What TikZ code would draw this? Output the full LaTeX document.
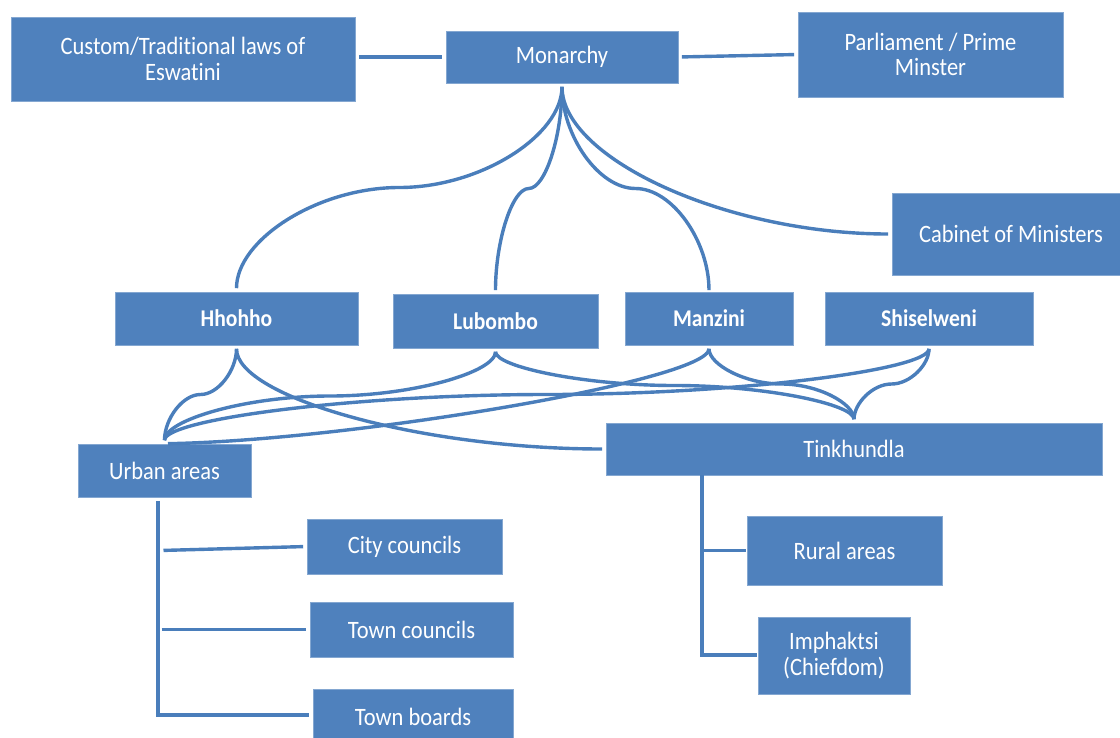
\documentclass[tikz,border=0pt]{standalone}
\usepackage{fontspec}
\setmainfont{Carlito}[FakeStretch=0.9, Ligatures={NoCommon}]
\usetikzlibrary{calc}
\definecolor{boxblue}{HTML}{4F81BD}
\definecolor{lineblue}{HTML}{4A7EBB}
\tikzset{
  box/.style={fill=boxblue, draw=boxblue!70!white, line width=0.6pt, text=white, inner sep=0pt, align=center,
    font=\fontsize{25}{25.5}\selectfont},
  dbox/.style={box, font=\fontsize{24}{25}\selectfont\bfseries},
  conn/.style={draw=lineblue, line width=3.4pt, shorten <=3.5pt, shorten >=3.5pt},
  tconn/.style={draw=lineblue, line width=3.4pt}
}
% vertical S-shaped curved connector (two cubic halves)
\newcommand\myVcurve[2]{%
  \draw[conn] let \p1=(#1), \p2=(#2) in (\p1)
    .. controls (\x1,{(3*(\y1)+(\y2))/4}) and ({(3*(\x1)+(\x2))/4},{((\y1)+(\y2))/2})
    .. ({((\x1)+(\x2))/2},{((\y1)+(\y2))/2})
    .. controls ({((\x1)+3*(\x2))/4},{((\y1)+(\y2))/2}) and (\x2,{((\y1)+3*(\y2))/4})
    .. (\p2);}
% vertical start, horizontal end curved connector
\newcommand\myVHcurve[2]{%
  \draw[conn] let \p1=(#1), \p2=(#2) in (\p1)
    .. controls (\x1,{((\y1)+(\y2))/2}) and ({((\x1)+(\x2))/2},\y2) .. (\p2);}
\begin{document}
\begin{tikzpicture}[x=1pt,y=-1pt]
\useasboundingbox (0,0) rectangle (1120,737);
% boxes
\node[box, minimum width=344pt, minimum height=84pt] (cu) at (183,59) {Custom/Traditional laws of\\Eswatini};
\node[box, minimum width=232pt, minimum height=52pt] (mo) at (562,57) {Monarchy};
\node[box, minimum width=265pt, minimum height=85pt] (pa) at (930.5,54.5) {Parliament / Prime\\Minster};
\node[box, minimum width=238pt, minimum height=82pt] (ca) at (1011,234) {Cabinet of Ministers};
\node[dbox, minimum width=243pt, minimum height=53pt] (hh) at (236.5,318.5) {Hhohho};
\node[dbox, minimum width=205pt, minimum height=54pt] (lu) at (495.5,321) {Lubombo};
\node[dbox, minimum width=168pt, minimum height=53pt] (ma) at (709,318.5) {Manzini};
\node[dbox, minimum width=208pt, minimum height=53pt] (sh) at (929,318.5) {Shiselweni};
\node[box, minimum width=173pt, minimum height=53pt] (ur) at (164.5,470.5) {Urban areas};
\node[box, minimum width=496pt, minimum height=52pt] (ti) at (854,449) {Tinkhundla};
\node[box, minimum width=195pt, minimum height=55pt] (ci) at (404.5,546.5) {City councils};
\node[box, minimum width=203pt, minimum height=55pt] (tc) at (411.5,629.5) {Town councils};
\node[box, minimum width=200pt, minimum height=55pt] (tb) at (413,716.5) {Town boards};
\node[box, minimum width=195pt, minimum height=69pt] (ru) at (844.5,550.5) {Rural areas};
\node[box, minimum width=152pt, minimum height=77pt] (im) at (834,655.5) {Imphaktsi\\(Chiefdom)};
% top straight connectors
\draw[conn] (mo.west -| cu.east) -- (mo.west);
\draw[conn] (mo.east) -- (pa.west);
% monarchy to districts and cabinet
\myVcurve{mo.south}{hh.north}
\myVcurve{mo.south}{lu.north}
\myVcurve{mo.south}{ma.south |- lu.north}
\myVHcurve{mo.south}{ca.west}
% districts to urban areas and tinkhundla
\myVcurve{hh.south}{ur.north}
\myVHcurve{hh.south}{ti.west}
\myVcurve{lu.south}{ur.north}
\myVcurve{lu.south}{ti.north}
\draw[conn] (ur.north) .. controls +(185,-3) and +(0,35) .. (ma.south);
\myVcurve{ma.south}{ti.north}
\myVcurve{sh.south}{ur.north}
\myVcurve{sh.south}{ti.north}
% urban areas tree
\coordinate (ux) at (158,715);
\draw[conn] ([xshift=-6.5pt]ur.south) -- (ux) -- (ux -| tb.west);
\draw[conn] (160,550.5) -- (ci.west);
\draw[conn] (ux |- tc.west) -- (tc.west);
% tinkhundla tree
\coordinate (tx) at (702,655);
\draw[tconn] (tx |- ti.south) -- (tx) -- ([xshift=-1pt]tx -| im.west);
\draw[tconn] (tx |- ru.west) -- ([xshift=-1pt]ru.west);
\end{tikzpicture}
\end{document}
